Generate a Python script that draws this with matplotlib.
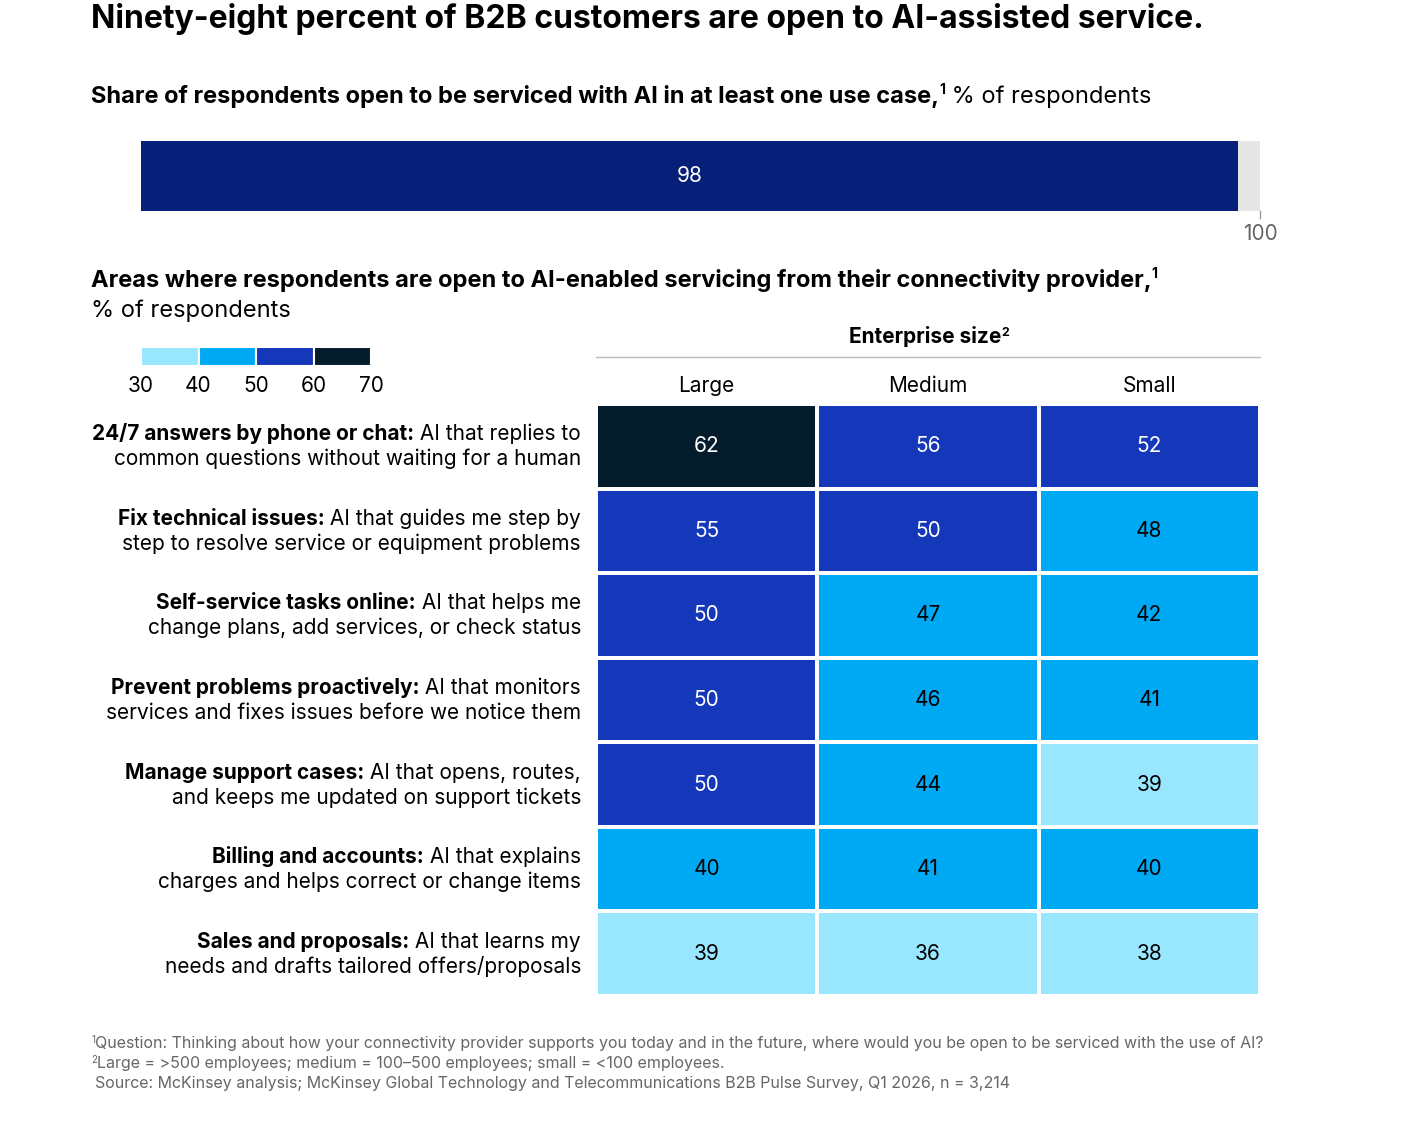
import matplotlib
matplotlib.use("Agg")
import matplotlib.pyplot as plt
from matplotlib.colors import ListedColormap, BoundaryNorm
import numpy as np

plt.rcParams['font.family'] = ['Inter', 'DejaVu Sans']

W, H = 1401, 1137
overall_value = 98
columns = ["Large", "Medium", "Small"]
row_bold = ["24/7 answers by phone or chat:", "Fix technical issues:", "Self-service tasks online:",
            "Prevent problems proactively:", "Manage support cases:", "Billing and accounts:", "Sales and proposals:"]
row_line1 = [" AI that replies to", " AI that guides me step by", " AI that helps me",
             " AI that monitors", " AI that opens, routes,", " AI that explains", " AI that learns my"]
row_line2 = ["common questions without waiting for a human", "step to resolve service or equipment problems",
             "change plans, add services, or check status", "services and fixes issues before we notice them",
             "and keeps me updated on support tickets", "charges and helps correct or change items",
             "needs and drafts tailored offers/proposals"]
values = np.array([[62, 56, 52], [55, 50, 48], [50, 47, 42], [50, 46, 41],
                   [50, 44, 39], [40, 41, 40], [39, 36, 38]])
bounds = [30, 40, 50, 60, 70]
colors = ["#99E6FF", "#00A9F4", "#1537BA", "#051C2C"]
cmap = ListedColormap(colors)
norm = BoundaryNorm(bounds, cmap.N)

fig = plt.figure(figsize=(W / 100, H / 100), dpi=100)
renderer = fig.canvas.get_renderer()

def ax_px(x0, y0, x1, y1):
    return fig.add_axes([x0 / W, 1 - y1 / H, (x1 - x0) / W, (y1 - y0) / H])

def txt(x, y, s, **kw):
    return fig.text(x / W, 1 - y / H, s, **kw)

def runs_left(x, y, parts):
    for s, w, size, dy in parts:
        t = txt(x, y - dy, s, fontsize=size, fontweight=w, va='baseline', ha='left', color='#000000')
        bb = t.get_window_extent(renderer)
        x = bb.x1

# Title
txt(91, 28, "Ninety-eight percent of B2B customers are open to AI-assisted service.",
    fontsize=23, fontweight='bold', va='baseline')
runs_left(91, 103, [("Share of respondents open to be serviced with AI in at least one use case,", 'bold', 17, 0),
                    ("1", 'bold', 10, 9), (" % of respondents", 'normal', 17, 0)])

# Top bar
ax = ax_px(141, 141, 1260, 211)
ax.barh([0], [100], color="#E6E6E6", height=1)
ax.barh([0], [overall_value], color="#061F79", height=1)
ax.text(overall_value / 2, 0, str(overall_value), color='white', ha='center', va='center', fontsize=15)
ax.set_xlim(0, 100); ax.set_ylim(-0.5, 0.5); ax.axis('off')
fig.add_artist(plt.Line2D([1260 / W] * 2, [1 - 211 / H, 1 - 218 / H], color='#999999', lw=1))
txt(1260, 240, "100", ha='center', va='baseline', fontsize=15, color='#666666')

# Second title
runs_left(91, 287, [("Areas where respondents are open to AI-enabled servicing from their connectivity provider,", 'bold', 17, 0),
                    ("1", 'bold', 10, 9)])
txt(91, 317, "% of respondents", fontsize=17, va='baseline')

# Legend
lax = ax_px(141, 347, 371, 366)
for i, c in enumerate(colors):
    lax.barh([0], [10], left=[bounds[i]], color=c, height=1, edgecolor='white', linewidth=1.5)
lax.set_xlim(30, 70); lax.set_ylim(-0.5, 0.5); lax.axis('off')
for b in bounds:
    txt(141 + (b - 30) / 40 * 230, 392, str(b), ha='center', va='baseline', fontsize=15)

# Header
runs_left(849, 343, [("Enterprise size", 'bold', 15, 0), ("2", 'bold', 9, 7)])
fig.add_artist(plt.Line2D([596 / W, 1260 / W], [1 - 357 / H] * 2, color='#BBBBBB', lw=1))
colw = (1260 - 596) / 3
for j, c in enumerate(columns):
    txt(596 + colw * (j + 0.5), 392, c, ha='center', va='baseline', fontsize=15)

# Heatmap
hax = ax_px(596, 404, 1260, 996)
hax.pcolormesh(np.arange(4), np.arange(8), values, cmap=cmap, norm=norm, edgecolors='white', linewidth=1.5)
hax.set_xlim(0, 3); hax.set_ylim(7, 0); hax.axis('off')
for i in range(7):
    for j in range(3):
        v = values[i, j]
        hax.text(j + 0.5, i + 0.5, str(v), ha='center', va='center', fontsize=15,
                 color='white' if v >= 50 else 'black')

rowh = (996 - 404) / 7
for i in range(7):
    yc = 404 + rowh * (i + 0.5)
    t = txt(581, yc - 6, row_line1[i], ha='right', va='baseline', fontsize=15)
    bb = t.get_window_extent(renderer)
    fig.text(bb.x0 / W, 1 - (yc - 6) / H, row_bold[i], ha='right', va='baseline', fontsize=15, fontweight='bold')
    txt(581, yc + 19, row_line2[i], ha='right', va='baseline', fontsize=15)

# Footnotes
fc = '#666666'
runs_left(91, 1048, [("1", 'normal', 7, 5), ("Question: Thinking about how your connectivity provider supports you today and in the future, where would you be open to be serviced with the use of AI?", 'normal', 11.5, 0)])
runs_left(91, 1068, [("2", 'normal', 7, 5), ("Large = >500 employees; medium = 100–500 employees; small = <100 employees.", 'normal', 11.5, 0)])
txt(95, 1088, "Source: McKinsey analysis; McKinsey Global Technology and Telecommunications B2B Pulse Survey, Q1 2026, n = 3,214",
    fontsize=11.5, va='baseline', color=fc)
for t in fig.texts[-5:]:
    t.set_color(fc)

fig.savefig("out.png", dpi=100)
